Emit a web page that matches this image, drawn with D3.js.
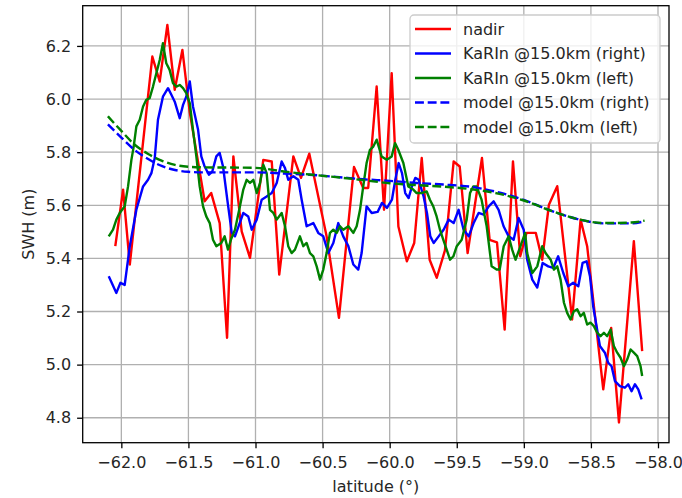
<!DOCTYPE html>
<html lang="en">
<head>
<meta charset="utf-8">
<script src="https://d3js.org/d3.v7.min.js"></script>
<style type="text/css">
body {
	margin: 0;
	background: #fff;
}
svg text {
	font-family: "DejaVu Sans", sans-serif;
}
</style>
</head>
<body>
<script type="text/javascript">

// nadir SWH along track  [latitude, swh]
var nadir = [[-62.045,5.446],[-61.987,5.659],[-61.937,5.377],[-61.769,6.160],[-61.714,6.066],
	[-61.657,6.279],[-61.602,6.035],[-61.545,6.185],[-61.49,5.95],[-61.379,5.615],[-61.330,5.646],
	[-61.267,5.533],[-61.212,5.101],[-61.165,5.784],[-61.103,5.502],[-61.041,5.402],[-60.942,5.771],
	[-60.879,5.765],[-60.823,5.339],[-60.718,5.784],[-60.661,5.703],[-60.599,5.794],[-60.470,5.483],
	[-60.378,5.176],[-60.266,5.744],[-60.197,5.665],[-60.160,5.665],[-60.097,6.047],[-60.042,5.583],
	[-59.985,6.097],[-59.935,5.520],[-59.872,5.389],[-59.817,5.458],[-59.761,5.778],[-59.702,5.395],
	[-59.649,5.327],[-59.588,5.43],[-59.523,5.765],[-59.478,5.746],[-59.419,5.420],[-59.312,5.778],
	[-59.255,5.470],[-59.200,5.46],[-59.143,5.132],[-59.081,5.765],[-59.027,5.408],[-58.98,5.496],
	[-58.911,5.496],[-58.863,5.395],[-58.813,5.602],[-58.751,5.672],[-58.640,5.170],[-58.577,5.546],
	[-58.528,5.446],[-58.408,4.907],[-58.349,5.138],[-58.291,4.782],[-58.180,5.465],[-58.118,5.051]];

// KaRIn right swath
var karinRight = [[-62.094,5.333],[-62.037,5.27],[-62.007,5.308],[-61.975,5.30],[-61.937,5.446],
	[-61.888,5.583],[-61.838,5.671],[-61.801,5.696],[-61.776,5.721],[-61.751,5.778],[-61.727,5.922],
	[-61.69,6.009],[-61.652,6.041],[-61.627,6.016],[-61.602,5.99],[-61.565,5.928],[-61.54,5.978],
	[-61.516,6.009],[-61.49,6.066],[-61.466,5.972],[-61.428,5.884],[-61.404,5.784],[-61.379,5.746],
	[-61.347,5.715],[-61.322,5.727],[-61.292,5.784],[-61.267,5.797],[-61.242,5.746],[-61.21,5.62],
	[-61.177,5.496],[-61.153,5.483],[-61.091,5.571],[-61.054,5.558],[-61.028,5.508],[-60.991,5.546],
	[-60.954,5.621],[-60.917,5.633],[-60.879,5.646],[-60.842,5.684],[-60.805,5.765],[-60.78,5.74],
	[-60.756,5.696],[-60.718,5.709],[-60.681,5.696],[-60.656,5.621],[-60.619,5.521],[-60.569,5.533],
	[-60.532,5.496],[-60.495,5.483],[-60.457,5.42],[-60.42,5.458],[-60.383,5.533],[-60.346,5.483],
	[-60.308,5.446],[-60.271,5.377],[-60.234,5.358],[-60.209,5.42],[-60.172,5.596],[-60.134,5.571],
	[-60.09,5.575],[-60.057,5.609],[-60.02,5.59],[-59.983,5.621],[-59.958,5.696],[-59.933,5.759],
	[-59.908,5.721],[-59.884,5.646],[-59.859,5.627],[-59.834,5.671],[-59.809,5.703],[-59.784,5.696],
	[-59.747,5.633],[-59.722,5.571],[-59.697,5.483],[-59.672,5.458],[-59.635,5.483],[-59.598,5.508],
	[-59.56,5.546],[-59.523,5.533],[-59.486,5.583],[-59.449,5.508],[-59.411,5.483],[-59.374,5.533],
	[-59.337,5.571],[-59.3,5.565],[-59.262,5.596],[-59.225,5.615],[-59.188,5.583],[-59.151,5.521],
	[-59.113,5.483],[-59.076,5.47],[-59.039,5.552],[-59.001,5.508],[-58.975,5.395],[-58.937,5.32],
	[-58.9,5.29],[-58.86,5.383],[-58.818,5.37],[-58.781,5.364],[-58.744,5.408],[-58.706,5.345],
	[-58.669,5.295],[-58.632,5.308],[-58.594,5.295],[-58.562,5.383],[-58.532,5.389],[-58.507,5.333],
	[-58.483,5.22],[-58.458,5.145],[-58.433,5.07],[-58.396,5.045],[-58.371,5.007],[-58.346,4.994],
	[-58.321,4.938],[-58.284,4.919],[-58.247,4.913],[-58.222,4.926],[-58.197,4.9],[-58.172,4.926],
	[-58.147,4.907],[-58.122,4.869]];

// KaRIn left swath
var karinLeft = [[-62.094,5.483],[-62.062,5.508],[-62.037,5.546],[-62.012,5.571],[-61.975,5.596],
	[-61.95,5.671],[-61.925,5.771],[-61.908,5.821],[-61.888,5.897],[-61.863,5.922],[-61.838,5.972],
	[-61.814,5.997],[-61.789,6.003],[-61.764,6.047],[-61.739,6.097],[-61.714,6.147],[-61.69,6.21],
	[-61.665,6.135],[-61.64,6.11],[-61.615,6.06],[-61.59,6.047],[-61.565,6.053],[-61.54,6.041],
	[-61.516,6.022],[-61.49,5.985],[-61.466,5.884],[-61.441,5.784],[-61.416,5.671],[-61.391,5.596],
	[-61.367,5.558],[-61.341,5.533],[-61.317,5.47],[-61.292,5.446],[-61.255,5.458],[-61.23,5.483],
	[-61.205,5.433],[-61.18,5.475],[-61.153,5.508],[-61.116,5.596],[-61.091,5.659],[-61.066,5.696],
	[-61.041,5.684],[-61.016,5.696],[-60.991,5.646],[-60.966,5.684],[-60.942,5.753],[-60.917,5.721],
	[-60.892,5.583],[-60.867,5.571],[-60.842,5.546],[-60.805,5.571],[-60.78,5.521],[-60.756,5.446],
	[-60.731,5.42],[-60.706,5.433],[-60.669,5.483],[-60.644,5.446],[-60.619,5.458],[-60.594,5.42],
	[-60.569,5.408],[-60.544,5.37],[-60.519,5.32],[-60.495,5.358],[-60.47,5.42],[-60.445,5.496],
	[-60.42,5.508],[-60.395,5.496],[-60.37,5.521],[-60.346,5.508],[-60.308,5.521],[-60.271,5.496],
	[-60.246,5.521],[-60.221,5.583],[-60.197,5.671],[-60.172,5.759],[-60.147,5.809],[-60.122,5.821],
	[-60.097,5.847],[-60.06,5.784],[-60.022,5.771],[-59.985,5.784],[-59.96,5.834],[-59.936,5.809],
	[-59.898,5.759],[-59.861,5.671],[-59.824,5.659],[-59.799,5.646],[-59.762,5.646],[-59.724,5.652],
	[-59.7,5.621],[-59.675,5.596],[-59.65,5.558],[-59.625,5.508],[-59.6,5.47],[-59.575,5.433],
	[-59.55,5.395],[-59.525,5.408],[-59.5,5.446],[-59.463,5.47],[-59.426,5.546],[-59.401,5.646],
	[-59.377,5.671],[-59.352,5.671],[-59.315,5.621],[-59.277,5.521],[-59.24,5.37],[-59.203,5.358],
	[-59.18,5.358],[-59.15,5.446],[-59.113,5.483],[-59.087,5.433],[-59.062,5.395],[-59.025,5.446],
	[-58.99,5.496],[-58.975,5.42],[-58.937,5.345],[-58.9,5.37],[-58.863,5.446],[-58.838,5.42],
	[-58.8,5.395],[-58.776,5.358],[-58.751,5.37],[-58.726,5.32],[-58.701,5.233],[-58.677,5.195],
	[-58.652,5.17],[-58.627,5.201],[-58.602,5.208],[-58.577,5.182],[-58.553,5.195],[-58.528,5.151],
	[-58.503,5.158],[-58.478,5.145],[-58.453,5.12],[-58.428,5.107],[-58.403,5.12],[-58.379,5.107],
	[-58.353,5.132],[-58.329,5.07],[-58.304,5.045],[-58.279,5.026],[-58.254,4.994],[-58.229,5.02],
	[-58.204,5.057],[-58.18,5.045],[-58.155,5.032],[-58.13,4.994],[-58.118,4.957]];

// model SWH interpolated on each swath
var modelRight = [[-62.1,5.905],[-62.0,5.855],[-61.9,5.808],[-61.8,5.774],[-61.7,5.748],[-61.6,5.733],
	[-61.5,5.726],[-61.4,5.724],[-61.2,5.724],[-61.0,5.724],[-60.8,5.72],[-60.6,5.715],[-60.4,5.707],
	[-60.2,5.698],[-60.0,5.692],[-59.8,5.684],[-59.6,5.678],[-59.4,5.670],[-59.2,5.650],[-59.0,5.620],
	[-58.8,5.580],[-58.6,5.548],[-58.4,5.532],[-58.2,5.532],[-58.1,5.540]];
var modelLeft = [[-62.1,5.935],[-62.0,5.880],[-61.9,5.828],[-61.8,5.793],[-61.7,5.768],[-61.6,5.752],
	[-61.5,5.745],[-61.4,5.743],[-61.0,5.741],[-60.8,5.728],[-60.6,5.716],[-60.4,5.706],[-60.2,5.695],
	[-60.0,5.683],[-59.8,5.676],[-59.6,5.670],[-59.4,5.661],[-59.2,5.645],[-59.0,5.618],[-58.8,5.580],
	[-58.6,5.548],[-58.4,5.533],[-58.2,5.535],[-58.1,5.542]];

var xTicks = [-62.0,-61.5,-61.0,-60.5,-60.0,-59.5,-59.0,-58.5,-58.0];
var yTicks = [4.8,5.0,5.2,5.4,5.6,5.8,6.0,6.2];

var series = [
	{label: "nadir", data: nadir, color: "#ff0000", dash: null, smooth: false},
	{label: "KaRIn @15.0km (right)", data: karinRight, color: "#0000ff", dash: null, smooth: false},
	{label: "KaRIn @15.0km (left)", data: karinLeft, color: "#008000", dash: null, smooth: false},
	{label: "model @15.0km (right)", data: modelRight, color: "#0000ff", dash: "8.9,3.8", smooth: true},
	{label: "model @15.0km (left)", data: modelLeft, color: "#008000", dash: "8.9,3.8", smooth: true}
];

var width = 682, height = 498;
var axL = 82.7, axR = 669, axT = 5.7, axB = 442.7;

var svg = d3.select("body").append("svg")
	.attr("width", width)
	.attr("height", height);

var x = d3.scaleLinear().domain([-62.288, -57.918]).range([axL, axR]);
var y = d3.scaleLinear().domain([4.706, 6.3515]).range([axB, axT]);

// grid
svg.append("g").selectAll("line").data(xTicks).enter().append("line")
	.attr("x1", function(d) { return x(d); }).attr("x2", function(d) { return x(d); })
	.attr("y1", axT).attr("y2", axB)
	.style("stroke", "#b0b0b0").style("stroke-width", 1.3);
svg.append("g").selectAll("line").data(yTicks).enter().append("line")
	.attr("y1", function(d) { return y(d); }).attr("y2", function(d) { return y(d); })
	.attr("x1", axL).attr("x2", axR)
	.style("stroke", "#b0b0b0").style("stroke-width", 1.3);

// lines
svg.append("clipPath").attr("id", "clip").append("rect")
	.attr("x", axL).attr("y", axT).attr("width", axR - axL).attr("height", axB - axT);

var plot = svg.append("g").attr("clip-path", "url(#clip)");
series.forEach(function(s) {
	var line = d3.line()
		.x(function(d) { return x(d[0]); })
		.y(function(d) { return y(d[1]); })
		.curve(s.smooth ? d3.curveMonotoneX : d3.curveLinear);
	plot.append("path")
		.datum(s.data)
		.attr("d", line)
		.style("fill", "none")
		.style("stroke", s.color)
		.style("stroke-width", 2.4)
		.style("stroke-linejoin", "round")
		.style("stroke-dasharray", s.dash);
});

// axes
var xAxis = svg.append("g")
	.attr("transform", "translate(0," + axB + ")")
	.call(d3.axisBottom(x).tickValues(xTicks).tickFormat(d3.format(".1f")).tickSize(5.6).tickPadding(8).tickSizeOuter(0));
var yAxis = svg.append("g")
	.attr("transform", "translate(" + axL + ",0)")
	.call(d3.axisLeft(y).tickValues(yTicks).tickFormat(d3.format(".1f")).tickSize(5.6).tickPadding(6).tickSizeOuter(0));

[xAxis, yAxis].forEach(function(a) {
	a.select(".domain").remove();
	a.selectAll(".tick line").style("stroke", "#000").style("stroke-width", 1.3);
	a.selectAll(".tick text")
		.style("font-family", "'DejaVu Sans', sans-serif")
		.style("font-size", "16px")
		.style("fill", "#262626");
});

svg.append("rect")
	.attr("x", axL).attr("y", axT)
	.attr("width", axR - axL).attr("height", axB - axT)
	.style("fill", "none").style("stroke", "#000").style("stroke-width", 1.3);

svg.append("text")
	.attr("x", (axL + axR) / 2).attr("y", 492)
	.attr("text-anchor", "middle")
	.style("font-size", "16px")
	.style("fill", "#262626")
	.text("latitude (°)");

svg.append("text")
	.attr("transform", "translate(34," + (axT + axB) / 2 + ") rotate(-90)")
	.attr("text-anchor", "middle")
	.style("font-size", "16px")
	.style("fill", "#262626")
	.text("SWH (m)");

// legend
var legend = svg.append("g").attr("transform", "translate(410,15)");
legend.append("rect")
	.attr("width", 250).attr("height", 128).attr("rx", 4)
	.style("fill", "#fff").style("fill-opacity", 0.8)
	.style("stroke", "#cccccc").style("stroke-width", 1.3);

var items = legend.selectAll("g.item").data(series).enter().append("g")
	.attr("class", "item")
	.attr("transform", function(d, i) { return "translate(0," + (14 + i * 24.5) + ")"; });
items.append("line")
	.attr("x1", 5).attr("x2", 41)
	.style("stroke", function(d) { return d.color; })
	.style("stroke-width", 2.4)
	.style("stroke-dasharray", function(d) { return d.dash; });
items.append("text")
	.attr("x", 53).attr("y", 5.8)
	.style("font-size", "16px")
	.style("fill", "#262626")
	.text(function(d) { return d.label; });

</script>
</body>
</html>
